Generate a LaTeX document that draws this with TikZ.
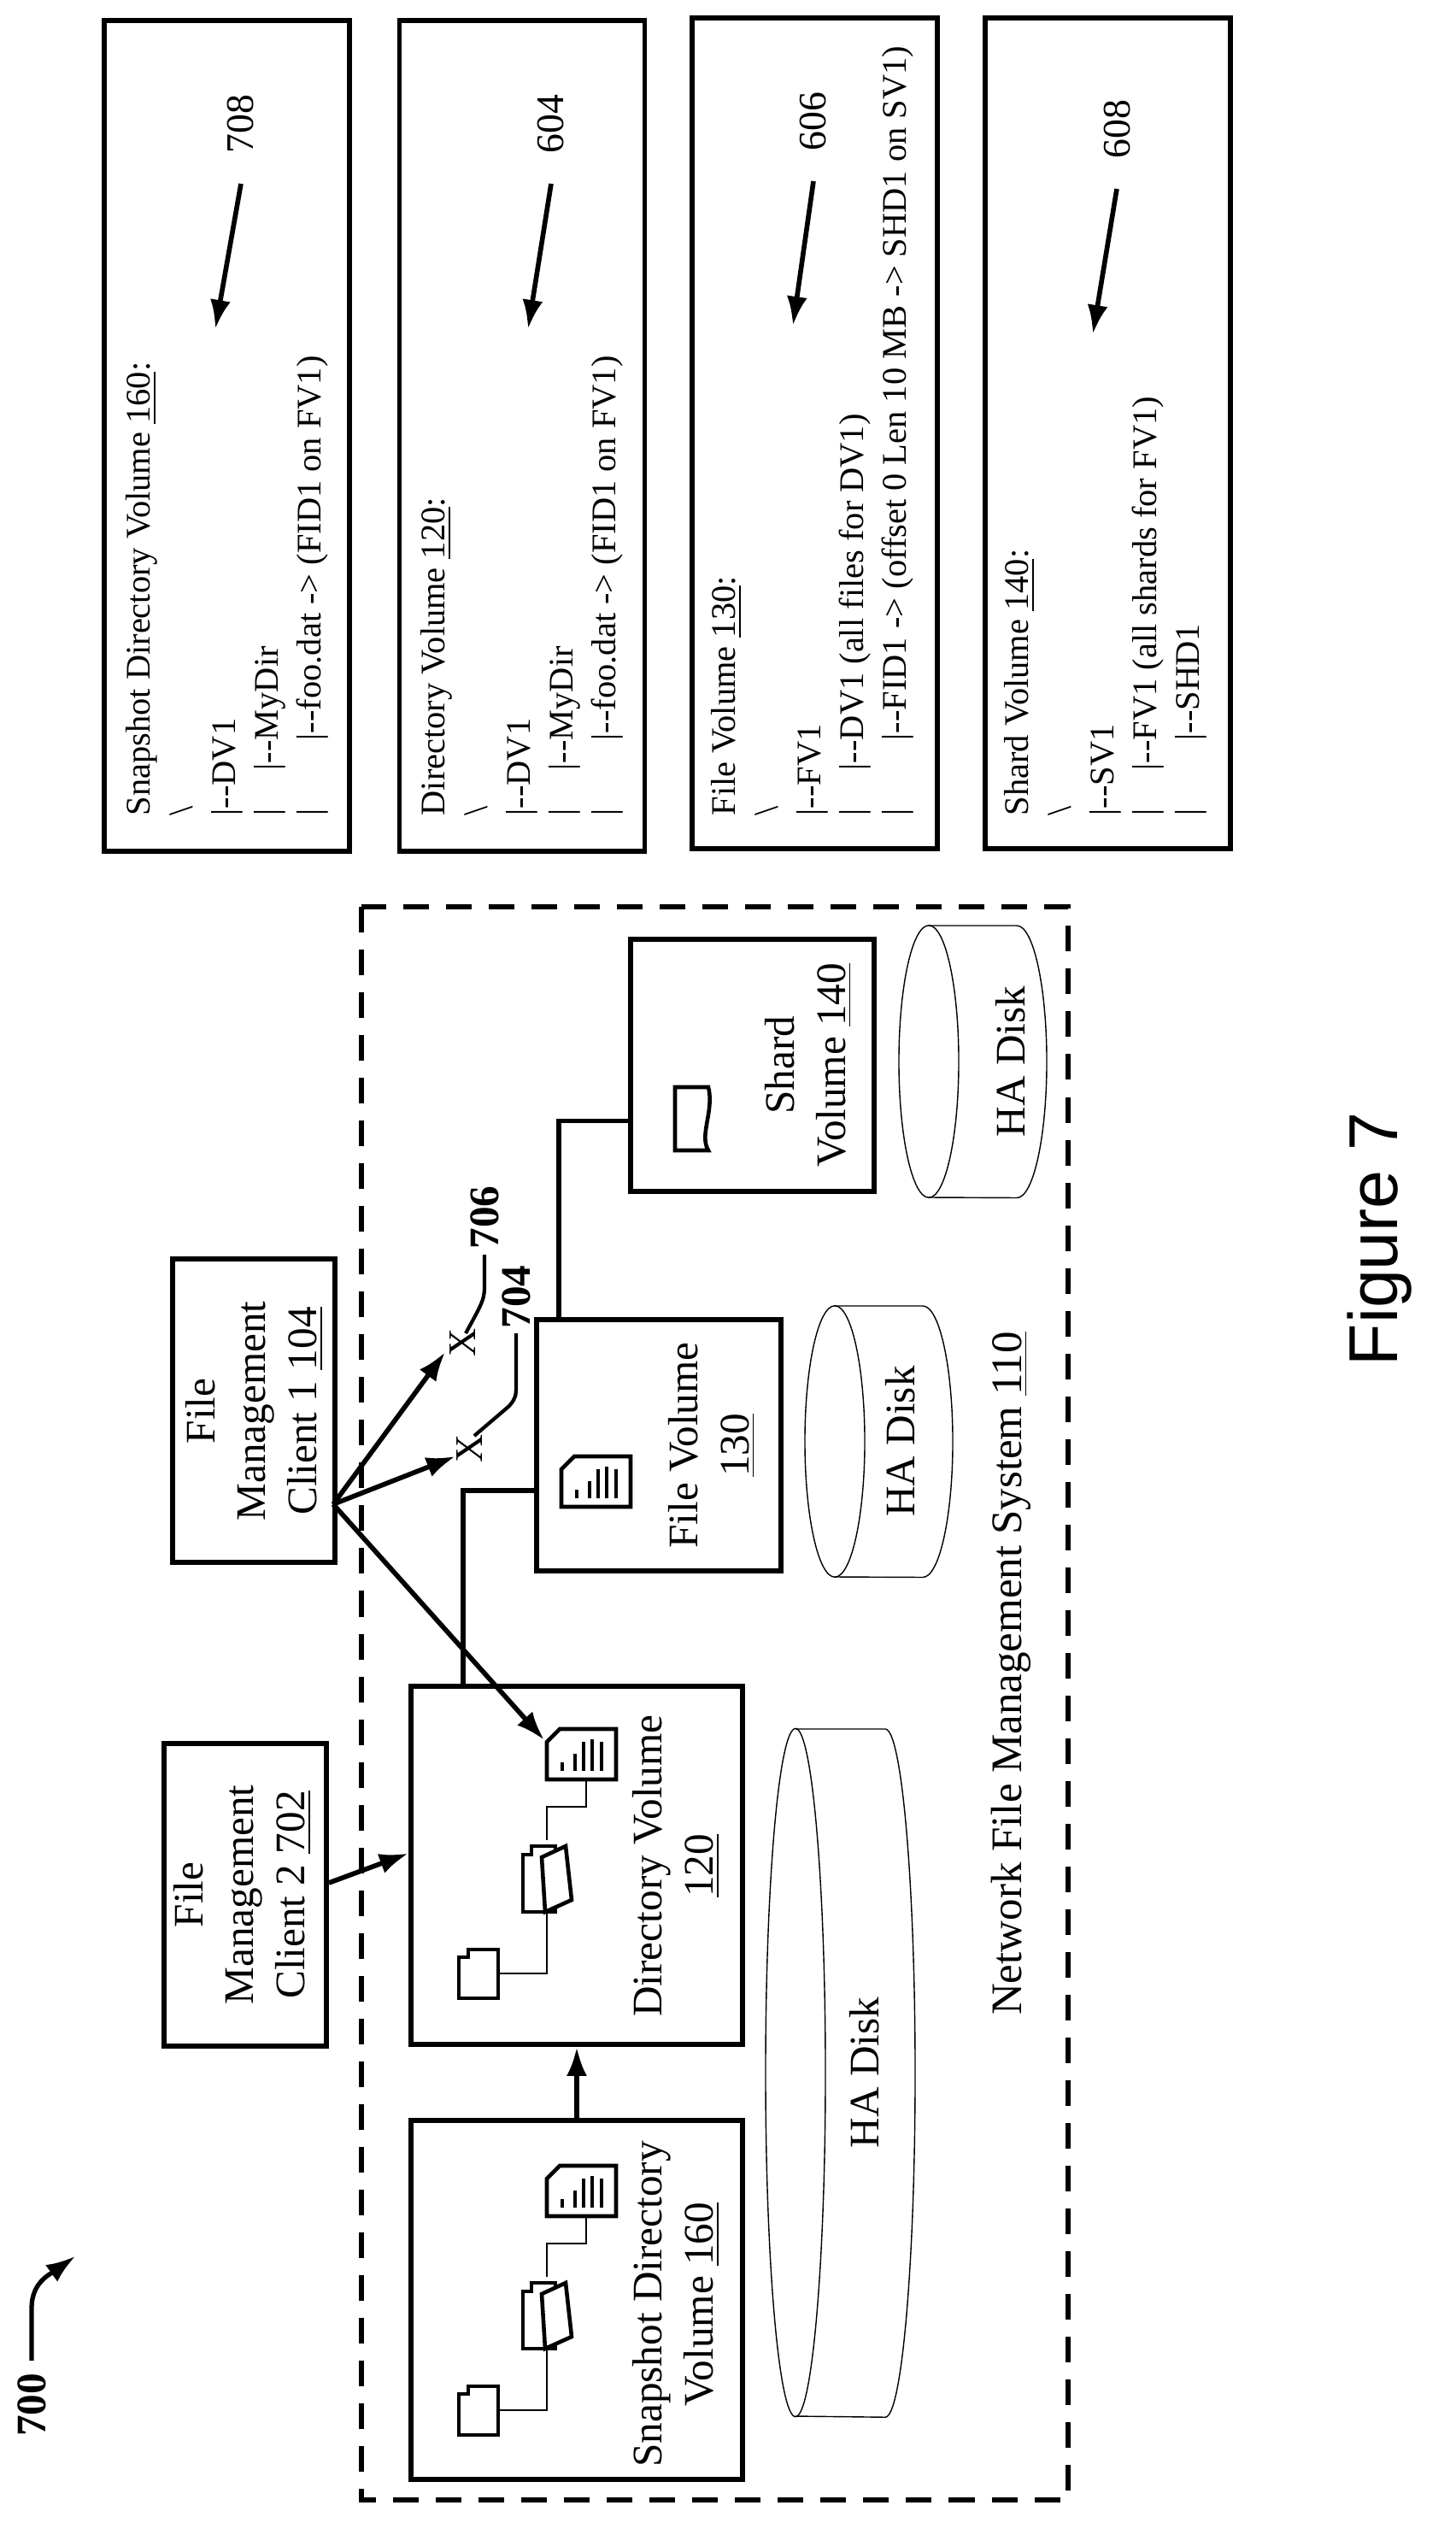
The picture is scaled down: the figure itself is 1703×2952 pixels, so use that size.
\documentclass[tikz,border=0pt]{standalone}
\usepackage{fontspec}
\setmainfont{Liberation Serif}
\newfontfamily\capfont{Liberation Sans}
\usepackage{tikz}
\usetikzlibrary{arrows.meta,calc,positioning}

\tikzset{
  box/.style={draw,line width=1.6pt,fill=white},
  listbox/.style={draw,line width=1.6pt,minimum width=2.87cm,minimum height=9.71cm},
  vtext/.style={rotate=90,align=center,font=\fontsize{14}{17}\selectfont,inner sep=0pt},
  listing/.style={rotate=90,align=left,anchor=north west,inner sep=0pt,
    font=\fontsize{11.5}{14.2}\selectfont},
  refnum/.style={rotate=90,inner sep=0pt,font=\fontsize{13}{15}\selectfont},
  boldnum/.style={rotate=90,inner sep=0pt,font=\bfseries\fontsize{14}{16}\selectfont},
  conn/.style={line width=1.5pt},
  arr/.style={line width=1.6pt,->,>={Latex[length=3.4mm,width=2.4mm]}},
  disk/.style={line width=0.4pt},
  dirtree/.pic={
    \draw[line width=1.3pt,fill=white] (0,15) -- (0,59) -- (81,59) -- (81,0) -- (15,0) -- cycle;
    \foreach \x/\t in {18/39,33/29,43/15,53/12,64/15}
      \draw[line width=0.9pt] (\x,49) -- (\x,\t);
    \draw[line width=0.4pt] (46,59) -- (46,91) -- (0,91) -- (0,130);
    \draw[line width=0.4pt] (0,214) -- (0,286) -- (-57,286);
    \draw[line width=1.3pt,fill=white] (-28,147) -- (-28,214) -- (10,214) -- (10,137) -- (-18,137) -- (-18,147) -- cycle;
    \draw[line width=1.3pt,fill=white] (-2,214) -- (29,200) -- (22,137) -- (-6,150) -- cycle;
    \draw[line width=1.3pt,fill=white] (-103,267) -- (-103,315) -- (-57,315) -- (-57,258) -- (-92,258) -- (-92,267) -- cycle;
  }
}

\newcommand{\hadisk}[5]{% x1, x2, y1, y2, label x
  \draw[disk] (#1+35,#3) -- (#2-35,#3) arc[start angle=90,end angle=-90,x radius=0.35cm,y radius={(#4-#3)*0.005cm}] -- (#1+35,#4);
  \draw[disk] ({#1+35},{(#3+#4)/2}) ellipse[x radius=0.35cm,y radius={(#4-#3)*0.005cm}];
  \node[vtext] at (#5,{(#3+#4)/2}) {HA Disk};
}

\begin{document}
\begin{tikzpicture}[x=0.01cm,y=-0.01cm]
\useasboundingbox (0,0) rectangle (1703,2952);

% listings on the right
\node[listbox] (lsnap) at (265.5,510) {};
\node[listbox] (ldir) at (611,510) {};
\node[listbox] (lfile) at (953.5,507) {};
\node[listbox] (lshard) at (1296.5,507) {};
\node[listing] at (147,955) {Snapshot Directory Volume \underline{160}:\\ \textbackslash\\ |-{}-DV1\\ |\hspace{0.45cm}|-{}-MyDir\\ |\hspace{0.8cm}|-{}-foo.dat -> (FID1 on FV1)};
\node[listing] at (492,955) {Directory Volume \underline{120}:\\ \textbackslash\\ |-{}-DV1\\ |\hspace{0.45cm}|-{}-MyDir\\ |\hspace{0.8cm}|-{}-foo.dat -> (FID1 on FV1)};
\node[listing] at (832,955) {File Volume \underline{130}:\\ \textbackslash\\ |-{}-FV1\\ |\hspace{0.45cm}|-{}-DV1 (all files for DV1)\\ |\hspace{0.8cm}|-{}-FID1 -> (offset 0 Len 10 MB -> SHD1 on SV1)};
\node[listing] at (1175,955) {Shard Volume \underline{140}:\\ \textbackslash\\ |-{}-SV1\\ |\hspace{0.45cm}|-{}-FV1 (all shards for FV1)\\ |\hspace{0.8cm}|-{}-SHD1};
\foreach \a/\b/\c/\d/\n in {282/215/252/385/708,645/215/618/385/604,952/212/928/381/606,1307/221/1279/391/608}{
  \coordinate (t\n) at (\a,\b);
  \coordinate (h\n) at (\c,\d);
  \draw[arr] (t\n) -- (h\n);
  \node[refnum] at (\a,{\b-70}) {\n};
}

% system
\draw[line width=1.6pt,dash pattern=on 0.3cm off 0.2cm] (423,1061) rectangle (1250,2925);
\node[vtext,font=\fontsize{14.5}{17}\selectfont] (nfms) at (1183,1958) {Network File Management System \underline{110}};

\node[box,minimum width=3.88cm,minimum height=4.2cm] (snap) at (675,2691) {};
\node[box,minimum width=3.88cm,minimum height=4.19cm] (dirv) at (675,2182.5) {};
\node[box,minimum width=2.86cm,minimum height=2.94cm] (filev) at (771,1691) {};
\node[box,minimum width=2.85cm,minimum height=2.95cm] (shardv) at (880.5,1246.5) {};
\node[box,minimum width=1.9cm,minimum height=3.55cm] (cl1) at (297,1650.5) {};
\node[box,minimum width=1.9cm,minimum height=3.54cm] (cl2) at (287,2217) {};

\node[vtext] at (791.5,2696) {Snapshot Directory\\ Volume \underline{160}};
\node[vtext] at (791.5,2183) {Directory Volume\\ \underline{120}};
\node[vtext] at (833,1691) {File Volume\\ \underline{130}};
\node[vtext] at (946,1246) {Shard\\ Volume \underline{140}};
\node[vtext] at (297.5,1651) {File\\ Management\\ Client 1 \underline{104}};
\node[vtext] at (283.5,2217) {File\\ Management\\ Client 2 \underline{702}};

% icons
\pic at (640,2023) {dirtree};
\pic at (640,2534) {dirtree};
\coordinate (dirdoc) at (637,2036);
\draw[line width=1.3pt,fill=white] (790,1272) -- (790,1346) -- (829,1346) .. controls (818,1328) and (836,1300) .. (829,1272) -- cycle;
\draw[line width=1.3pt,fill=white] (657,1719) -- (657,1763) -- (738,1763) -- (738,1704) -- (672,1704) -- cycle;
\foreach \x/\t in {675/1743,690/1733,700/1719,710/1716,721/1719}
  \draw[line width=0.9pt] (\x,1753) -- (\x,\t);

% disks
\hadisk{1052}{1225}{1083}{1401}{1183}
\hadisk{942}{1115}{1528}{1845}{1054}
\hadisk{896}{1071}{2023}{2827}{1012}

% connectors
\draw[conn] ([yshift=-0.65cm]shardv.west) -| ([xshift=-1.17cm]filev.north);
\draw[conn] ([yshift=-0.53cm]filev.west) -| ([xshift=-1.33cm]dirv.north);
\draw[arr] (snap.north) -- (dirv.south);
\draw[arr] ([yshift=0.14cm]cl2.east) -- ([yshift=0.14cm]dirv.west);

\coordinate (cl1out) at (390,1760);
\coordinate (x706) at (542,1571);
\coordinate (x704) at (550,1695);
\draw[arr] (cl1out) -- (521,1582);
\draw[arr] (cl1out) -- (533,1704);
\draw[arr] (cl1out) -- (dirdoc);
\node[rotate=90,font=\fontsize{13}{14}\selectfont,inner sep=0pt] at (x706) {X};
\node[rotate=90,font=\fontsize{13}{14}\selectfont,inner sep=0pt] at (x704) {X};
\draw[line width=1.2pt] (545,1560) .. controls (567,1520) .. (567,1500) -- (567,1468);
\draw[line width=1.2pt] (555,1680) -- (596,1645) .. controls (604,1635) .. (604,1615) -- (604,1560);
\node[boldnum,anchor=west] at (567,1462) {706};
\node[boldnum,anchor=west] at (604,1555) {704};

% figure number
\node[boldnum] (n700) at (37,2814) {700};
\draw[line width=1.5pt,->,>={Latex[length=3.4mm,width=2.4mm]}] (37,2762) -- (37,2700) .. controls (37,2670) and (60,2660) .. (88,2640);
\node[rotate=90,font=\capfont\fontsize{23}{26}\selectfont] (fig) at (1615,1450) {Figure 7};
\end{tikzpicture}
\end{document}
